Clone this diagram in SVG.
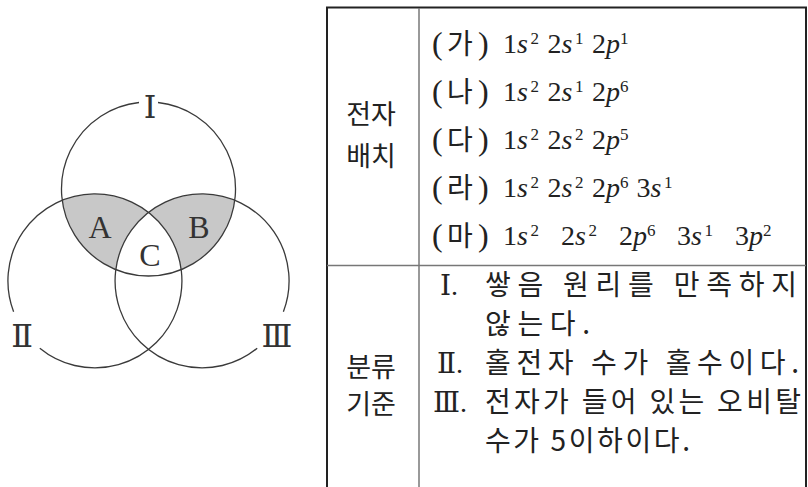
<svg xmlns="http://www.w3.org/2000/svg" width="808" height="487" viewBox="0 0 808 487">
<style>
.vl{font-family:"Liberation Serif","DejaVu Serif",serif;font-size:32px;fill:#333;text-anchor:middle}
.arc{fill:none;stroke:#3a3a3a;stroke-width:1.3}
.kr{font-family:"Noto Sans CJK KR","Noto Sans",sans-serif;fill:#222}
.lab{font-size:27px;text-anchor:middle}
.kb{font-size:28px}
.f{font-family:"Liberation Serif","Noto Sans CJK KR",serif;font-size:28px;fill:#222}
.p{font-size:32px}
.h{font-family:"Noto Sans CJK KR",sans-serif;font-size:28px}
.it{font-style:italic}
.sup{font-size:17px}
.rn{font-family:"Liberation Serif","DejaVu Serif","Noto Sans CJK KR",serif;font-size:28px;fill:#222}
.bd{stroke:#222;stroke-width:2;fill:none}
.in{stroke:#777;stroke-width:1.5;fill:none}
</style>
<defs>
<clipPath id="cI"><circle cx="148.5" cy="189" r="87"/></clipPath>
</defs>
<g id="venn">
<path d="M8,281a87,87 0 1,0 174,0a87,87 0 1,0 -174,0Z M115,281a87,87 0 1,0 174,0a87,87 0 1,0 -174,0Z" fill="#c8c8c8" fill-rule="evenodd" clip-path="url(#cI)"/>
<g id="circle-I"><path class="arc" d="M158,102.5 A87,87 0 1,1 139,102.5"/><text class="vl" x="150" y="118">Ⅰ</text></g>
<g id="circle-II"><path class="arc" d="M13.6,311.8 A87,87 0 1,1 39.8,348.2"/><text class="vl" x="22" y="347">Ⅱ</text></g>
<g id="circle-III"><path class="arc" d="M257.2,348.2 A87,87 0 1,1 283.4,311.8"/><text class="vl" x="277" y="347">Ⅲ</text></g>
<g id="region-A"><text class="vl" x="100" y="238">A</text></g>
<g id="region-B"><text class="vl" x="199" y="238">B</text></g>
<g id="region-C"><text class="vl" x="150" y="266">C</text></g>
</g>
<g id="table">
<line class="bd" x1="326" y1="7.5" x2="807" y2="7.5"/>
<line class="bd" x1="327" y1="7" x2="327" y2="487"/>
<line class="bd" x1="806" y1="7" x2="806" y2="487"/>
<line class="in" x1="419" y1="8" x2="419" y2="487"/>
<line class="in" x1="327" y1="265.5" x2="806" y2="265.5"/>
</g>
<g id="cell-config-label">
<text class="kr lab" x="371" y="124">전자</text>
<text class="kr lab" x="371" y="166">배치</text>
</g>
<g id="cell-config">
<text class="f" y="54"><tspan x="432" class="p">(</tspan><tspan x="447" class="h">가</tspan><tspan x="478" class="p">)</tspan></text>
<text class="f" y="53"><tspan x="503">1</tspan><tspan x="517" class="it">s</tspan><tspan x="530.5" dy="-9" class="sup">2</tspan><tspan x="547.5" dy="9">2</tspan><tspan x="561.5" class="it">s</tspan><tspan x="575" dy="-9" class="sup">1</tspan><tspan x="592" dy="9">2</tspan><tspan x="606" class="it">p</tspan><tspan x="620" dy="-9" class="sup">1</tspan></text>
<text class="f" y="102"><tspan x="432" class="p">(</tspan><tspan x="447" class="h">나</tspan><tspan x="478" class="p">)</tspan></text>
<text class="f" y="101"><tspan x="503">1</tspan><tspan x="517" class="it">s</tspan><tspan x="530.5" dy="-9" class="sup">2</tspan><tspan x="547.5" dy="9">2</tspan><tspan x="561.5" class="it">s</tspan><tspan x="575" dy="-9" class="sup">1</tspan><tspan x="592" dy="9">2</tspan><tspan x="606" class="it">p</tspan><tspan x="620" dy="-9" class="sup">6</tspan></text>
<text class="f" y="150"><tspan x="432" class="p">(</tspan><tspan x="447" class="h">다</tspan><tspan x="478" class="p">)</tspan></text>
<text class="f" y="149"><tspan x="503">1</tspan><tspan x="517" class="it">s</tspan><tspan x="530.5" dy="-9" class="sup">2</tspan><tspan x="547.5" dy="9">2</tspan><tspan x="561.5" class="it">s</tspan><tspan x="575" dy="-9" class="sup">2</tspan><tspan x="592" dy="9">2</tspan><tspan x="606" class="it">p</tspan><tspan x="620" dy="-9" class="sup">5</tspan></text>
<text class="f" y="198"><tspan x="432" class="p">(</tspan><tspan x="447" class="h">라</tspan><tspan x="478" class="p">)</tspan></text>
<text class="f" y="197"><tspan x="503">1</tspan><tspan x="517" class="it">s</tspan><tspan x="530.5" dy="-9" class="sup">2</tspan><tspan x="547.5" dy="9">2</tspan><tspan x="561.5" class="it">s</tspan><tspan x="575" dy="-9" class="sup">2</tspan><tspan x="592" dy="9">2</tspan><tspan x="606" class="it">p</tspan><tspan x="620" dy="-9" class="sup">6</tspan><tspan x="636.5" dy="9">3</tspan><tspan x="650.5" class="it">s</tspan><tspan x="664" dy="-9" class="sup">1</tspan></text>
<text class="f" y="246"><tspan x="432" class="p">(</tspan><tspan x="447" class="h">마</tspan><tspan x="478" class="p">)</tspan></text>
<text class="f" y="245"><tspan x="503">1</tspan><tspan x="517" class="it">s</tspan><tspan x="530.5" dy="-9" class="sup">2</tspan><tspan x="561" dy="9">2</tspan><tspan x="575" class="it">s</tspan><tspan x="588.5" dy="-9" class="sup">2</tspan><tspan x="619" dy="9">2</tspan><tspan x="633" class="it">p</tspan><tspan x="647" dy="-9" class="sup">6</tspan><tspan x="677" dy="9">3</tspan><tspan x="691" class="it">s</tspan><tspan x="704.5" dy="-9" class="sup">1</tspan><tspan x="735" dy="9">3</tspan><tspan x="749" class="it">p</tspan><tspan x="763" dy="-9" class="sup">2</tspan></text>
</g>
<g id="cell-criteria-label">
<text class="kr lab" x="371" y="377">분류</text>
<text class="kr lab" x="371" y="414">기준</text>
</g>
<g id="cell-criteria">
<text class="rn" x="440" y="295">Ⅰ.</text>
<text class="kr kb" x="485" y="295" textLength="312" lengthAdjust="spacing">쌓음 원리를 만족하지</text>
<text class="kr kb" x="485" y="334" textLength="105" lengthAdjust="spacing">않는다.</text>
<text class="rn" x="437" y="373">Ⅱ.</text>
<text class="kr kb" x="485" y="373" textLength="314" lengthAdjust="spacing">홀전자 수가 홀수이다.</text>
<text class="rn" x="433" y="412">Ⅲ.</text>
<text class="kr kb" x="485" y="412" textLength="316" lengthAdjust="spacing">전자가 들어 있는 오비탈</text>
<text class="kr kb" x="485" y="451" textLength="205" lengthAdjust="spacing">수가 5이하이다.</text>
</g>
</svg>
